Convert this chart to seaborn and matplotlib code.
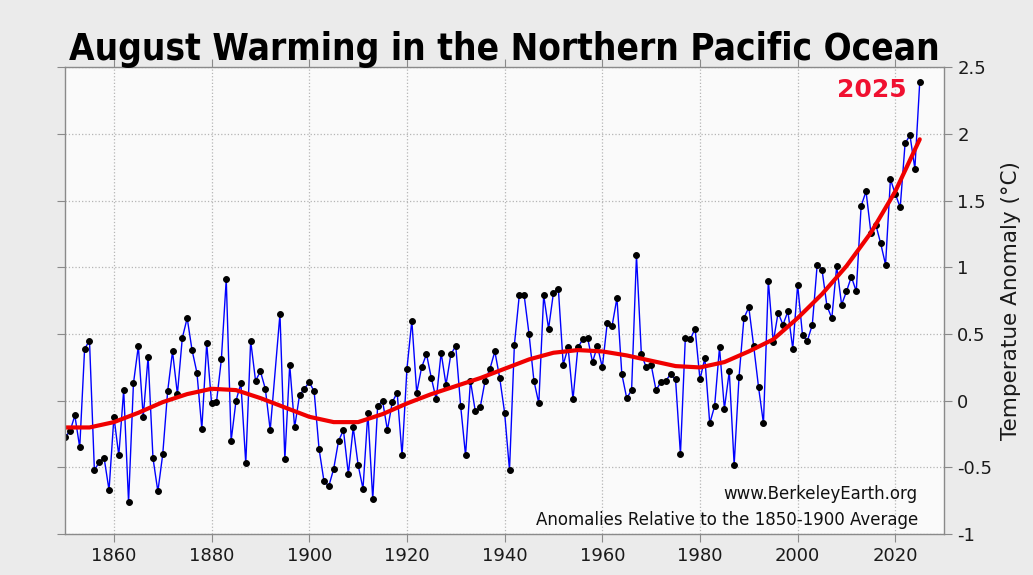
import numpy as np
import pandas as pd
import matplotlib
matplotlib.use('Agg')
import matplotlib.pyplot as plt
import seaborn as sns
from matplotlib.ticker import FuncFormatter, MultipleLocator

# 八月北太平洋温度距平 (相对 1850-1900 平均)
years = list(range(1850, 2026))
anomaly = [
    -0.27, -0.23, -0.11, -0.35, 0.39, 0.45, -0.52, -0.46, -0.43, -0.67,   # 1850s
    -0.12, -0.41, 0.08, -0.76, 0.13, 0.41, -0.12, 0.33, -0.43, -0.68,    # 1860s
    -0.40, 0.07, 0.37, 0.05, 0.47, 0.62, 0.38, 0.21, -0.21, 0.43,        # 1870s
    -0.02, -0.01, 0.31, 0.91, -0.30, 0.00, 0.13, -0.47, 0.45, 0.15,      # 1880s
    0.22, 0.09, -0.22, np.nan, 0.65, -0.44, 0.27, -0.20, 0.04, 0.09,     # 1890s
    0.14, 0.07, -0.36, -0.60, -0.64, -0.51, -0.30, -0.22, -0.55, -0.20,  # 1900s
    -0.48, -0.66, -0.09, -0.74, -0.04, 0.00, -0.22, -0.01, 0.06, -0.41,  # 1910s
    0.24, 0.60, 0.06, 0.25, 0.35, 0.17, 0.01, 0.36, 0.12, 0.35,          # 1920s
    0.41, -0.04, -0.41, 0.15, -0.08, -0.05, 0.15, 0.24, 0.37, 0.17,      # 1930s
    -0.09, -0.52, 0.42, 0.79, 0.79, 0.50, 0.15, -0.02, 0.79, 0.54,       # 1940s
    0.81, 0.84, 0.27, 0.40, 0.01, 0.40, 0.46, 0.47, 0.29, 0.41,          # 1950s
    0.25, 0.58, 0.56, 0.77, 0.20, 0.02, 0.08, 1.09, 0.35, 0.25,          # 1960s
    0.27, 0.08, 0.14, 0.15, 0.20, 0.16, -0.40, 0.47, 0.46, 0.54,         # 1970s
    0.16, 0.32, -0.17, -0.04, 0.40, -0.06, 0.22, -0.48, 0.18, 0.62,      # 1980s
    0.70, 0.41, 0.10, -0.17, 0.90, 0.44, 0.66, 0.57, 0.67, 0.39,         # 1990s
    0.87, 0.49, 0.45, 0.57, 1.02, 0.98, 0.71, 0.62, 1.01, 0.72,          # 2000s
    0.82, 0.93, 0.82, 1.46, 1.57, 1.26, 1.32, 1.18, 1.02, 1.66,          # 2010s
    1.55, 1.45, 1.93, 1.99, 1.74, 2.39,                                   # 2020s
]

# 平滑趋势线 (每5年读一次)
trend_years = list(range(1850, 2030, 5))
trend_vals = [
    -0.20, -0.20, -0.16, -0.09, -0.01, 0.05, 0.09, 0.08, 0.02, -0.05,
    -0.12, -0.16, -0.16, -0.10, -0.02, 0.05, 0.11, 0.17, 0.24, 0.31,
    0.36, 0.38, 0.37, 0.34, 0.30, 0.26, 0.25, 0.29, 0.37, 0.46,
    0.62, 0.80, 1.01, 1.26, 1.57, 1.96,
]

df = pd.DataFrame({'year': years, 'anomaly': anomaly}).dropna()
trend = pd.DataFrame({'year': trend_years, 'trend': trend_vals})

sns.set_style('white')
plt.rcParams['font.family'] = ['DejaVu Sans']

fig = plt.figure(figsize=(10.33, 5.75), dpi=100, facecolor='#ebebeb')
ax = fig.add_axes([0.063, 0.071, 0.851, 0.812])
ax.set_facecolor('#fafafa')

sns.lineplot(data=df, x='year', y='anomaly', ax=ax, color='#0000ff', linewidth=1.0,
             marker='o', markersize=4.2, markerfacecolor='black', markeredgecolor='black')
sns.lineplot(data=trend, x='year', y='trend', ax=ax, color='#f00000', linewidth=3.0)

ax.set_xlim(1850, 2030)
ax.set_ylim(-1, 2.5)
ax.yaxis.set_major_locator(MultipleLocator(0.5))
ax.yaxis.set_major_formatter(FuncFormatter(lambda v, p: f'{v:g}'.replace('\u2212', '-')))
ax.set_xticks(range(1860, 2030, 20))

ax.grid(True, linestyle=':', color='#b5b5b5', linewidth=0.9)
for s in ax.spines.values():
    s.set_color('#8a8a8a')
    s.set_linewidth(1.0)

ax.tick_params(axis='both', direction='out', length=6, color='#8a8a8a',
               labelsize=13, labelcolor='#1a1a1a',
               top=True, bottom=True, left=True, right=True,
               labelleft=False, labelright=True)
ax.yaxis.set_label_position('right')
ax.set_xlabel('')
ax.set_ylabel('Temperatue Anomaly (°C)', fontsize=15.5, color='#1a1a1a', labelpad=6)

ax.set_title('August Warming in the Northern Pacific Ocean', fontsize=26.5, color='black',
             fontweight='bold', fontstretch='condensed', pad=5)

ax.text(2022.3, 2.33, '2025', color='#f01030', fontsize=18, fontweight='semibold',
        ha='right', va='center')
ax.text(0.970, 0.085, 'www.BerkeleyEarth.org', transform=ax.transAxes,
        ha='right', va='center', fontsize=12, color='#111111')
ax.text(0.970, 0.03, 'Anomalies Relative to the 1850-1900 Average', transform=ax.transAxes,
        ha='right', va='center', fontsize=12, color='#111111')

fig.savefig('out.png', dpi=100, facecolor=fig.get_facecolor())
plt.close()
